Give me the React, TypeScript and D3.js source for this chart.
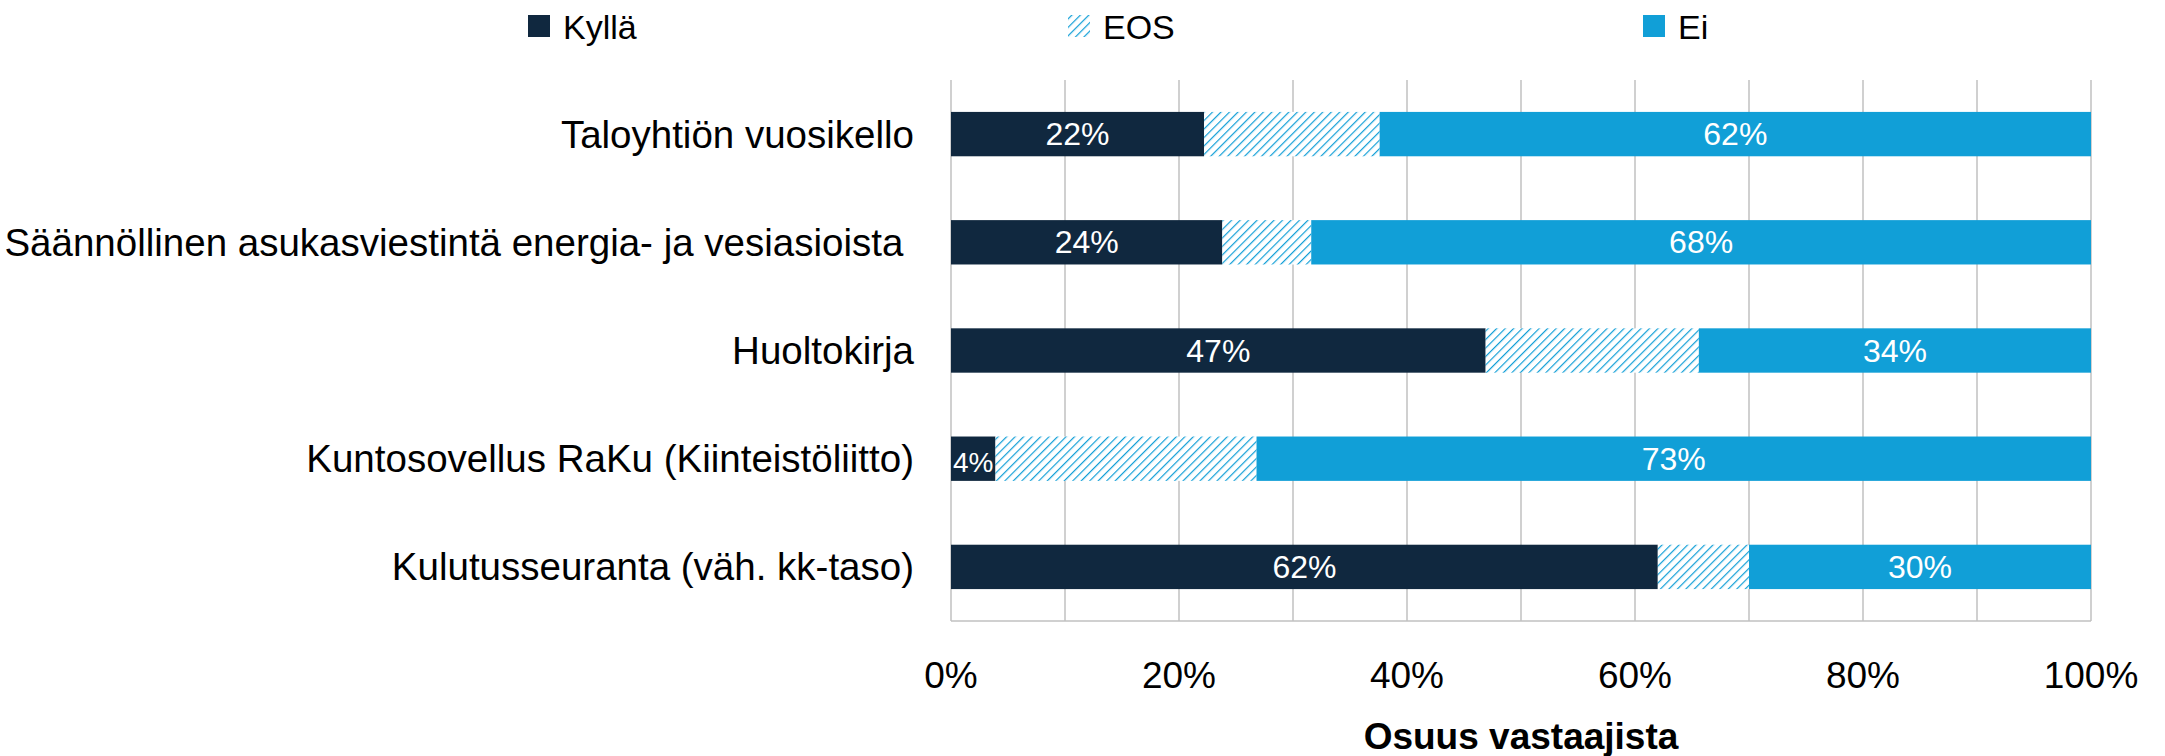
import React from 'react';
import * as d3 from 'd3';

const categories = [
  'Taloyhtiön vuosikello',
  'Säännöllinen asukasviestintä energia- ja vesiasioista ',
  'Huoltokirja',
  'Kuntosovellus RaKu (Kiinteistöliitto)',
  'Kulutusseuranta (väh. kk-taso)',
];
const seriesNames = ['Kyllä', 'EOS', 'Ei'];
const kylla = [22.2, 23.8, 46.9, 3.9, 62.0];
const eos = [15.4, 7.8, 18.7, 22.9, 8.0];
const ei = [62.4, 68.4, 34.4, 73.2, 30.0];
const tickValues = [0, 20, 40, 60, 80, 100];
const gridValues = [0, 10, 20, 30, 40, 50, 60, 70, 80, 90, 100];

const W = 2165, H = 756;
const FONT = '"Liberation Sans", Arial, sans-serif';
const DARK = '#10283f';
const BLUE = '#119fd7';

export default function App() {
  const x = d3.scaleLinear().domain([0, 100]).range([951, 2091]);
  const y = d3.scaleBand().domain(categories).range([80, 621]).paddingInner(0.59).paddingOuter(0.295);

  const rows = categories.map((c, i) => {
    const vals = [kylla[i], eos[i], ei[i]];
    let acc = 0;
    return vals.map((v, k) => {
      const seg = { cat: c, k, x0: acc, x1: acc + v, v };
      acc += v;
      return seg;
    });
  });

  const fills = [DARK, 'url(#hatch)', BLUE];

  return (
    <svg width={W} height={H} style={{ position: 'absolute', left: 0, top: 0 }} fontFamily={FONT}>
      <defs>
        <pattern id="hatch" patternUnits="userSpaceOnUse" width="6" height="6" patternTransform="rotate(45)">
          <rect width="6" height="6" fill="#fff" />
          <line x1="0" y1="0" x2="0" y2="6" stroke={BLUE} strokeWidth="2.4" />
        </pattern>
      </defs>

      {/* gridlines */}
      {gridValues.map(g => (
        <line key={g} x1={x(g)} x2={x(g)} y1={80} y2={621} stroke="#c0c0c0" strokeWidth={1.5} />
      ))}
      <line x1={x(0)} x2={x(100)} y1={621} y2={621} stroke="#c0c0c0" strokeWidth={1.5} />

      {/* bars */}
      {rows.map((segs, i) => (
        <g key={i}>
          {segs.map(s => (
            <rect key={s.k} x={x(s.x0)} y={y(s.cat)} width={x(s.x1) - x(s.x0)} height={y.bandwidth()} fill={fills[s.k]} />
          ))}
          {segs.filter(s => s.k !== 1).map(s => (
            <text key={'t' + s.k} x={(x(s.x0) + x(s.x1)) / 2} y={(y(s.cat) as number) + y.bandwidth() / 2 + (s.v < 10 ? 4 : 0)}
              textAnchor="middle" dominantBaseline="central" fill="#fff" fontSize={s.v < 10 ? 28 : 32}>
              {Math.round(s.v) + '%'}
            </text>
          ))}
          <text x={914} y={(y(segs[0].cat) as number) + y.bandwidth() / 2} textAnchor="end" dominantBaseline="central"
            fontSize={38.5} fill="#000" style={{ whiteSpace: 'pre' }}>
            {categories[i]}
          </text>
        </g>
      ))}

      {/* x ticks */}
      {tickValues.map(t => (
        <text key={t} x={x(t)} y={675} textAnchor="middle" dominantBaseline="central" fontSize={37} fill="#000">
          {t + '%'}
        </text>
      ))}
      <text x={(x(0) + x(100)) / 2} y={736} textAnchor="middle" dominantBaseline="central" fontSize={37} fontWeight="bold" fill="#000">
        Osuus vastaajista
      </text>

      {/* legend */}
      {seriesNames.map((n, k) => {
        const lx = [528, 1068, 1643][k];
        return (
          <g key={n}>
            <rect x={lx} y={15} width={22} height={22} fill={fills[k]} />
            <text x={lx + 35} y={27} dominantBaseline="central" fontSize={34} fill="#000">{n}</text>
          </g>
        );
      })}
    </svg>
  );
}
